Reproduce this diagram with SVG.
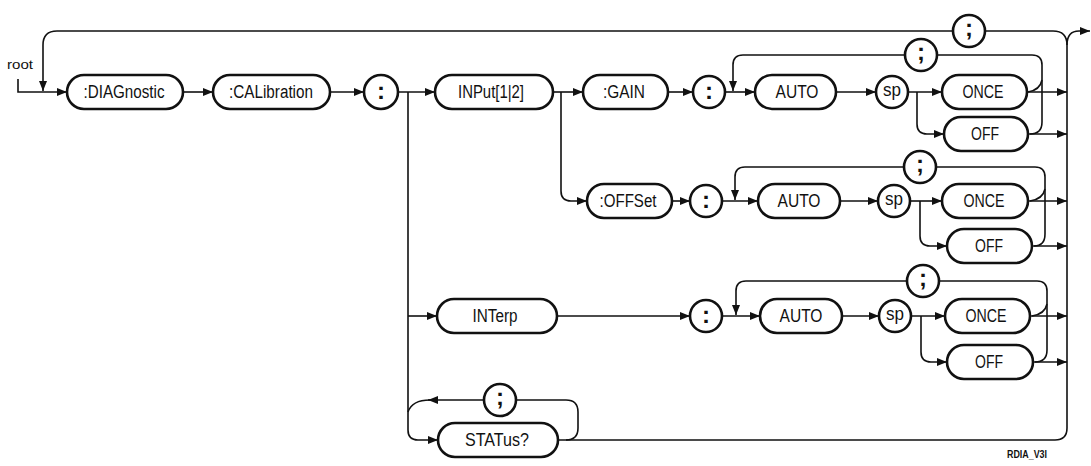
<svg xmlns="http://www.w3.org/2000/svg" width="1091" height="466" viewBox="0 0 1091 466">
<defs>
<marker id="ah" viewBox="0 0 10 8" refX="10" refY="4" markerWidth="10" markerHeight="8" markerUnits="userSpaceOnUse" orient="auto"><path d="M0,0 L10,4 L0,8 z" fill="#111"/></marker>
<style>
.n{fill:#fff;stroke:#111;stroke-width:2.6}
.c{fill:none;stroke:#111;stroke-width:1.6}
.a{marker-end:url(#ah)}
.t{font-family:"Liberation Sans",Arial,sans-serif;font-size:18px;fill:#111;text-anchor:middle}
.p{font-family:"Liberation Sans",Arial,sans-serif;font-size:24px;font-weight:bold;fill:#111;text-anchor:middle}
.s{font-family:"Liberation Sans",Arial,sans-serif;fill:#111}
</style>
</defs>
<rect width="1091" height="466" fill="#fff"/>
<text class="s" x="7" y="69" font-size="13" textLength="26" lengthAdjust="spacingAndGlyphs">root</text>
<text class="s" x="1007" y="458" font-size="10" font-weight="bold" textLength="40" lengthAdjust="spacingAndGlyphs">RDIA_V3I</text>
<g id="connectors">
<path class="c a" d="M18 79 V92 H67"/>
<path class="c" d="M1067 45 Q1067 31 1053 31 H986"/>
<path class="c a" d="M952 31 H57 Q43 31 43 45 V91"/>
<path class="c a" d="M1067 45 Q1067 31 1079 31 H1090"/>
<path class="c" d="M558 440 H1055 Q1067 440 1067 428 V45"/>
<path class="c a" d="M183 92 H213"/>
<path class="c a" d="M330 92 H364"/>
<path class="c a" d="M398 92 H435"/>
<path class="c a" d="M408 92 V430 Q408 440 418 440 H438"/>
<path class="c a" d="M408 316 H437"/>
<path class="c a" d="M484 400 H428"/>
<path class="c" d="M430 400 Q412 400 408 412"/>
<path class="c" d="M516 400 H566 Q578 400 578 412 V428 Q578 440 566 440"/>
<path class="c a" d="M553 92 H583"/>
<path class="c a" d="M561 92 V191 Q561 201 571 201 H587"/>
<path class="c a" d="M668 92 H693"/>
<path class="c a" d="M725 92 H755"/>
<path class="c" d="M1030 134 Q1042 134 1042 122 V65 Q1042 55 1032 55 H937"/>
<path class="c a" d="M905 55 H743 Q733 55 733 65 V91"/>
<path class="c" d="M1028 92 Q1040 90 1042 80"/>
<path class="c a" d="M836 92 H876"/>
<path class="c a" d="M908 92 H942"/>
<path class="c a" d="M917 92 V124 Q917 134 927 134 H944"/>
<path class="c a" d="M1027 92 H1067"/>
<path class="c a" d="M1028 134 H1067"/>
<path class="c a" d="M672 201 H690"/>
<path class="c a" d="M722 201 H758"/>
<path class="c a" d="M840 201 H878"/>
<path class="c a" d="M910 201 H942"/>
<path class="c a" d="M920 201 V236 Q920 246 930 246 H947"/>
<path class="c a" d="M1028 201 H1067"/>
<path class="c a" d="M1032 246 H1067"/>
<path class="c" d="M1034 246 Q1045 246 1045 234 V177 Q1045 167 1035 167 H936"/>
<path class="c a" d="M904 167 H745 Q735 167 735 177 V200"/>
<path class="c" d="M1030 201 Q1043 199 1045 189"/>
<path class="c a" d="M557 316 H690"/>
<path class="c a" d="M722 316 H760"/>
<path class="c a" d="M842 316 H879"/>
<path class="c a" d="M911 316 H945"/>
<path class="c a" d="M921 316 V352 Q921 362 931 362 H947"/>
<path class="c a" d="M1030 316 H1067"/>
<path class="c a" d="M1033 362 H1067"/>
<path class="c" d="M1035 362 Q1047 362 1047 350 V291 Q1047 281 1037 281 H939"/>
<path class="c a" d="M907 281 H746 Q736 281 736 291 V315"/>
<path class="c" d="M1032 316 Q1045 314 1047 304"/>
</g>
<g id="semi0"><circle class="n" cx="969" cy="31" r="16"/><text class="p" x="969" y="36">;</text></g>
<g id="diag"><rect class="n" x="67" y="75" width="116" height="34" rx="17"/><text class="t" x="124" y="98" textLength="81" lengthAdjust="spacingAndGlyphs">:DIAGnostic</text></g>
<g id="cal"><rect class="n" x="213" y="75" width="117" height="34" rx="17"/><text class="t" x="271" y="98" textLength="84" lengthAdjust="spacingAndGlyphs">:CALibration</text></g>
<g id="colon0"><circle class="n" cx="381" cy="92" r="17"/><text class="p" x="381" y="99">:</text></g>
<g id="input"><rect class="n" x="435" y="75" width="118" height="34" rx="17"/><text class="t" x="491" y="98" textLength="66" lengthAdjust="spacingAndGlyphs">INPut[1|2]</text></g>
<g id="gain"><rect class="n" x="583" y="75" width="85" height="34" rx="17"/><text class="t" x="624" y="98" textLength="42" lengthAdjust="spacingAndGlyphs">:GAIN</text></g>
<g id="colon1"><circle class="n" cx="709" cy="92" r="16"/><text class="p" x="709" y="99">:</text></g>
<g id="semi1"><circle class="n" cx="921" cy="55" r="16"/><text class="p" x="921" y="60">;</text></g>
<g id="auto1"><rect class="n" x="755" y="75" width="81" height="34" rx="17"/><text class="t" x="797" y="98" textLength="43" lengthAdjust="spacingAndGlyphs">AUTO</text></g>
<g id="sp1"><circle class="n" cx="892" cy="92" r="16"/><text class="t" x="892" y="96" textLength="18" lengthAdjust="spacingAndGlyphs">sp</text></g>
<g id="once1"><rect class="n" x="942" y="75" width="85" height="34" rx="17"/><text class="t" x="983" y="98" textLength="41" lengthAdjust="spacingAndGlyphs">ONCE</text></g>
<g id="off1"><rect class="n" x="944" y="117" width="84" height="34" rx="17"/><text class="t" x="985" y="140" textLength="28" lengthAdjust="spacingAndGlyphs">OFF</text></g>
<g id="offset"><rect class="n" x="587" y="184" width="85" height="34" rx="17"/><text class="t" x="628" y="207" textLength="57" lengthAdjust="spacingAndGlyphs">:OFFSet</text></g>
<g id="colon2"><circle class="n" cx="706" cy="201" r="16"/><text class="p" x="706" y="208">:</text></g>
<g id="semi2"><circle class="n" cx="920" cy="167" r="16"/><text class="p" x="920" y="172">;</text></g>
<g id="auto2"><rect class="n" x="758" y="184" width="82" height="34" rx="17"/><text class="t" x="799" y="207" textLength="43" lengthAdjust="spacingAndGlyphs">AUTO</text></g>
<g id="sp2"><circle class="n" cx="894" cy="201" r="16"/><text class="t" x="894" y="205" textLength="18" lengthAdjust="spacingAndGlyphs">sp</text></g>
<g id="once2"><rect class="n" x="942" y="184" width="86" height="34" rx="17"/><text class="t" x="984" y="207" textLength="41" lengthAdjust="spacingAndGlyphs">ONCE</text></g>
<g id="off2"><rect class="n" x="947" y="229" width="85" height="34" rx="17"/><text class="t" x="989" y="252" textLength="28" lengthAdjust="spacingAndGlyphs">OFF</text></g>
<g id="interp"><rect class="n" x="437" y="299" width="120" height="34" rx="17"/><text class="t" x="495" y="322" textLength="45" lengthAdjust="spacingAndGlyphs">INTerp</text></g>
<g id="colon3"><circle class="n" cx="706" cy="316" r="16"/><text class="p" x="706" y="323">:</text></g>
<g id="semi3"><circle class="n" cx="923" cy="281" r="16"/><text class="p" x="923" y="286">;</text></g>
<g id="auto3"><rect class="n" x="760" y="299" width="82" height="34" rx="17"/><text class="t" x="801" y="322" textLength="43" lengthAdjust="spacingAndGlyphs">AUTO</text></g>
<g id="sp3"><circle class="n" cx="895" cy="316" r="16"/><text class="t" x="895" y="320" textLength="18" lengthAdjust="spacingAndGlyphs">sp</text></g>
<g id="once3"><rect class="n" x="945" y="299" width="85" height="34" rx="17"/><text class="t" x="986" y="322" textLength="41" lengthAdjust="spacingAndGlyphs">ONCE</text></g>
<g id="off3"><rect class="n" x="947" y="345" width="86" height="34" rx="17"/><text class="t" x="989" y="368" textLength="28" lengthAdjust="spacingAndGlyphs">OFF</text></g>
<g id="semi4"><circle class="n" cx="500" cy="400" r="16"/><text class="p" x="500" y="405">;</text></g>
<g id="status"><rect class="n" x="438" y="423" width="120" height="34" rx="17"/><text class="t" x="497" y="446" textLength="64" lengthAdjust="spacingAndGlyphs">STATus?</text></g>
</svg>
